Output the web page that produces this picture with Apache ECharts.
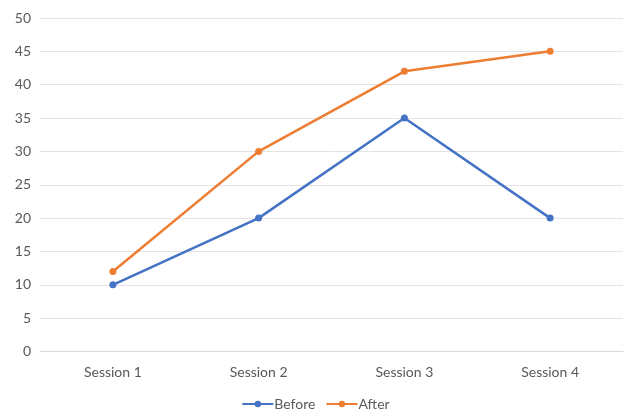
<!DOCTYPE html>
<html>
<head>
<meta charset="utf-8">
<script src="https://cdn.jsdelivr.net/npm/echarts@6/dist/echarts.min.js"></script>
<style>
  html, body { margin: 0; padding: 0; background: #ffffff; }
  #chart { width: 631px; height: 417px; }
</style>
</head>
<body>
<div id="chart"></div>
<script>
// Session scores before and after
const categories = ['Session 1', 'Session 2', 'Session 3', 'Session 4'];
const beforeValues = [10, 20, 35, 20];
const afterValues = [12, 30, 42, 45];

const textColor = '#595959';
const fontFamily = 'Lato, "Open Sans", sans-serif';

const chart = echarts.init(document.getElementById('chart'));
chart.setOption({
  animation: false,
  textStyle: { fontFamily: fontFamily },
  grid: { left: 40, right: 8, top: 18, bottom: 65.5, containLabel: false },
  legend: {
    bottom: 1,
    left: 'center',
    itemWidth: 31,
    itemHeight: 8,
    itemGap: 10,
    textStyle: { color: textColor, fontSize: 14, fontFamily: fontFamily, padding: [0, 0, 0, -4] },
    data: ['Before', 'After']
  },
  xAxis: {
    type: 'category',
    data: categories,
    boundaryGap: true,
    axisLine: { lineStyle: { color: '#d9d9d9', width: 1 } },
    axisTick: { show: false },
    axisLabel: { color: textColor, fontSize: 14, margin: 14, fontFamily: fontFamily }
  },
  yAxis: {
    type: 'value',
    min: 0,
    max: 50,
    interval: 5,
    axisLine: { show: false },
    axisTick: { show: false },
    axisLabel: { color: textColor, fontSize: 14, margin: 9, fontFamily: fontFamily },
    splitLine: { lineStyle: { color: '#e3e3e3', width: 1 } }
  },
  series: [
    {
      name: 'Before',
      type: 'line',
      data: beforeValues,
      symbol: 'circle',
      symbolSize: 7,
      lineStyle: { color: '#4472C4', width: 2.5 },
      itemStyle: { color: '#4472C4' }
    },
    {
      name: 'After',
      type: 'line',
      data: afterValues,
      symbol: 'circle',
      symbolSize: 7,
      lineStyle: { color: '#ED7D31', width: 2.5 },
      itemStyle: { color: '#ED7D31' }
    }
  ]
});
</script>
</body>
</html>
